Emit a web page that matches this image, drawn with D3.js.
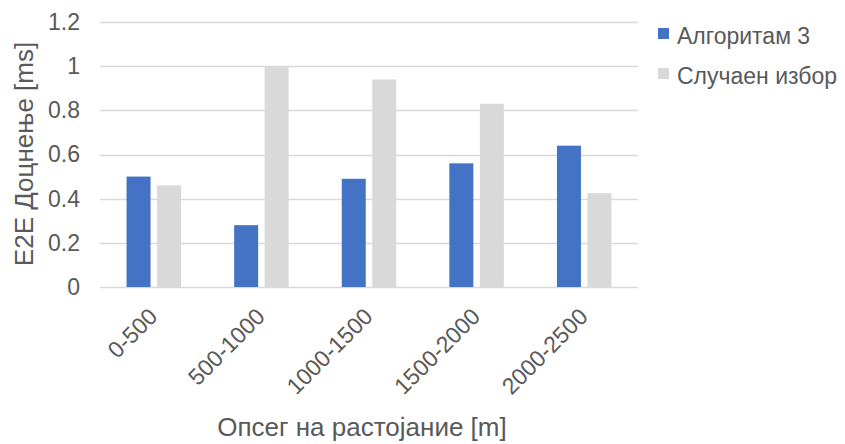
<!DOCTYPE html>
<html>
<head>
<meta charset="utf-8">
<script src="https://cdn.jsdelivr.net/npm/d3@7"></script>
<style>
  html, body { margin: 0; padding: 0; background: #fff; }
  svg { display: block; font-family: "Liberation Sans", Arial, sans-serif; }
</style>
</head>
<body>
<svg id="chart" width="845" height="444"></svg>
<script>
// Distance ranges and E2E delay per method
const categories = ["0-500", "500-1000", "1000-1500", "1500-2000", "2000-2500"];
const seriesNames = ["Алгоритам 3", "Случаен избор"];
const algorithm3 = [0.50, 0.28, 0.49, 0.56, 0.64];
const randomChoice = [0.46, 1.00, 0.94, 0.83, 0.425];
const yTicks = [0, 0.2, 0.4, 0.6, 0.8, 1, 1.2];
const yTickLabels = ["0", "0.2", "0.4", "0.6", "0.8", "1", "1.2"];
const colors = ["#4472C4", "#D9D9D9"];

const rows = categories.map((c, i) => ({ cat: c, values: [algorithm3[i], randomChoice[i]] }));

const svg = d3.select("#chart");
const margin = { left: 100, right: 207, top: 22, bottom: 157 };
const W = 845, H = 444;
const plotW = W - margin.left - margin.right;
const plotH = H - margin.top - margin.bottom;
const textColor = "#595959";
const tickFont = "23px";
const titleFont = "26px";

const g = svg.append("g").attr("transform", `translate(${margin.left},${margin.top})`);

const x = d3.scaleBand().domain(categories).range([0, plotW]);
const y = d3.scaleLinear().domain([0, 1.2]).range([plotH, 0]);

// horizontal gridlines
g.selectAll("line.grid").data(yTicks).join("line")
  .attr("class", "grid")
  .attr("x1", 0).attr("x2", plotW)
  .attr("y1", d => Math.round(y(d)) + 0.5).attr("y2", d => Math.round(y(d)) + 0.5)
  .attr("stroke", "#D9D9D9").attr("stroke-width", 1.5);

// y axis labels
const yAxis = d3.axisLeft(y).tickValues(yTicks).tickSize(0).tickPadding(20)
  .tickFormat((d, i) => yTickLabels[i]);
const yg = g.append("g").call(yAxis);
yg.select(".domain").remove();
yg.selectAll("text").attr("fill", textColor).style("font-size", tickFont)
  .style("font-family", "'Liberation Sans', Arial, sans-serif");

// clustered bars
const barW = 24, gap = 6.5;
const groupW = 2 * barW + gap;
const groups = g.selectAll("g.cat").data(rows).join("g")
  .attr("class", "cat")
  .attr("transform", d => `translate(${x(d.cat) + x.bandwidth() / 2 - groupW / 2},0)`);
groups.selectAll("rect").data(d => d.values.map((v, k) => ({ v, k }))).join("rect")
  .attr("x", d => d.k * (barW + gap))
  .attr("width", barW)
  .attr("y", d => y(d.v))
  .attr("height", d => y(0) - y(d.v))
  .attr("fill", d => colors[d.k]);

// x axis category labels, rotated
const xg = g.append("g").attr("transform", `translate(0,${plotH})`);
xg.selectAll("text").data(categories).join("text")
  .attr("transform", d => `translate(${x(d) + x.bandwidth() / 2 + 5},${31}) rotate(-45)`)
  .attr("text-anchor", "end")
  .attr("fill", textColor)
  .style("font-size", tickFont)
  .text(d => d);

// axis titles
svg.append("text")
  .attr("x", 362).attr("y", 436)
  .attr("text-anchor", "middle").attr("fill", textColor)
  .style("font-size", titleFont)
  .text("Опсег на растојание [m]");

svg.append("text")
  .attr("transform", `translate(33,154) rotate(-90)`)
  .attr("text-anchor", "middle").attr("fill", textColor)
  .style("font-size", titleFont)
  .text("E2E Доцнење [ms]");

// legend
const legend = svg.append("g").attr("transform", "translate(658,28)");
const li = legend.selectAll("g").data(seriesNames).join("g")
  .attr("transform", (d, i) => `translate(0,${i * 40})`);
li.append("rect").attr("width", 11).attr("height", 11).attr("fill", (d, i) => colors[i]);
li.append("text").attr("x", 19).attr("y", 16)
  .attr("fill", textColor).style("font-size", tickFont).text(d => d);
</script>
</body>
</html>
